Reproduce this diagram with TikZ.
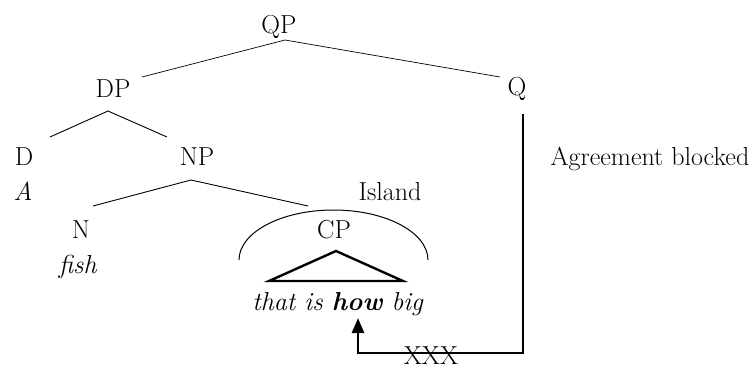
\documentclass[tikz,border=0pt]{standalone}
\usepackage{fontspec}
\usepackage{tikz}
\usetikzlibrary{arrows.meta}

\begin{document}
\begin{tikzpicture}[x=1pt, y=-1pt,
  lbl/.style={anchor=base, inner sep=0pt, font=\fontsize{26}{30}\selectfont},
  branch/.style={line width=0.9pt},
  roof/.style={line width=2.4pt, line join=miter},
  agree/.style={line width=2.6pt, -{Triangle[length=15pt,width=12pt]}}]
  \useasboundingbox (0,0) rectangle (755,365);
  % tree labels
  \node[lbl] (qp) at (279,33) {QP};
  \node[lbl] (dp) at (113,97) {DP};
  \node[lbl] (q) at (517,95) {Q};
  \node[lbl] (d) at (24,165) {D};
  \node[lbl] (np) at (197,165) {NP};
  \node[lbl] (a) at (23,200) {\textit{A}};
  \node[lbl] (isl) at (390,200) {Island};
  \node[lbl] (n) at (81,238) {N};
  \node[lbl] (fish) at (78,273) {\textit{fish}};
  \node[lbl] (cp) at (334,238) {CP};
  \node[lbl] (str) at (338,310) {\textit{that is \textbf{how} big}};
  \node[lbl] (blk) at (650,165) {Agreement blocked};
  \node[lbl] (xxx) at (431,364) {XXX};
  % branch ends
  \coordinate (qp-b) at (285,40);
  \coordinate (dp-t) at (142,77);
  \coordinate (q-t) at (500,77);
  \coordinate (dp-b) at (108,111);
  \coordinate (d-t) at (50,137);
  \coordinate (np-t) at (167,137);
  \coordinate (np-b) at (191,180);
  \coordinate (n-t) at (93,206);
  \coordinate (cp-t) at (308,206);
  \draw[line width=0.7pt] (qp-b) -- (dp-t);
  \draw[line width=0.7pt] (qp-b) -- (q-t);
  \draw[branch] (dp-b) -- (d-t);
  \draw[branch] (dp-b) -- (np-t);
  \draw[branch] (np-b) -- (n-t);
  \draw[branch] (np-b) -- (cp-t);
  % island
  \draw[line width=1pt] (239,260) arc[start angle=180, end angle=360, x radius=94.5, y radius=50];
  \coordinate (top) at (336,251);
  \coordinate (bl) at (269,281);
  \coordinate (br) at (403,281);
  \draw[roof] (top) -- (bl) -- (br) -- cycle;
  % agreement path
  \coordinate (q-d) at (523,114);
  \coordinate (how-b) at (358,318);
  \draw[agree] (q-d) |- (358,353) -- (how-b);
\end{tikzpicture}
\end{document}
